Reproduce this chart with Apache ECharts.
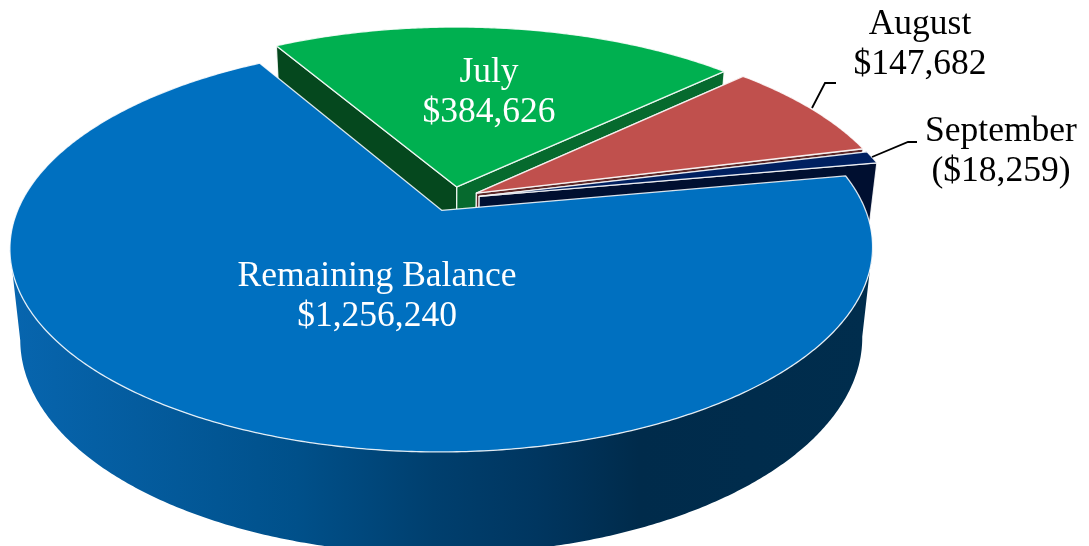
<!DOCTYPE html>
<html style='height: 100%'>
<head>
    <meta charset='utf-8'>
</head>
<body style='height: 100%; margin: 0; background: #fff'>
    <div id='container' style='width: 1089px; height: 546px'></div>
    <script src="https://cdn.jsdelivr.net/npm/echarts@6/dist/echarts.min.js"></script>
    <script type="text/javascript">

// values
var categories = ['Remaining Balance', 'July', 'August', 'September'];
var values = [1256240, 384626, 147682, 18259];
var valueLabels = ['$1,256,240', '$384,626', '$147,682', '($18,259)'];

// colours per slice: top, face towards the next slice, face towards the previous one
var topColors = ['#0070C0', '#00B050', '#C0504D', '#002060'];
var endColors = ['#00305a', '#066a2e', '#5e2a2a', '#000f30'];
var startColors = ['#00305a', '#05481e', '#5e2a2a', '#000f30'];

// the order slices get painted in, back to front
var paintOrder = [1, 2, 3, 0];

// fake 3d pie set up
var cx = 453, cy = 199;
var radiusX = 419.5, radiusY = 193;
var persp = 0.182;
var explode = 0.064;
var thickness = 88;
var shrink = 0.976;
var vanishX = 442;
var startAngle = -10.4;

var total = values.reduce(function (a, b) { return a + b; }, 0);

function toScreen(px, py) {
    var s = 1 / (1 - persp * py);
    return [cx + radiusX * px * s, cy + radiusY * py * s, s];
}

function toBottom(p) {
    return [vanishX + (p[0] - vanishX) * shrink, p[1] + thickness * Math.pow(p[2], 0.7)];
}

function slicePoints(idx) {
    var before = 0;
    for (var i = 0; i < idx; i++) before += values[i];
    var a0 = startAngle + before / total * 360;
    var a1 = a0 + values[idx] / total * 360;
    var mid = (a0 + a1) / 2 * Math.PI / 180;
    var ox = Math.cos(mid) * explode, oy = Math.sin(mid) * explode;
    var rim = [];
    var steps = Math.max(2, Math.ceil((a1 - a0) * 2));
    for (var j = 0; j <= steps; j++) {
        var t = (a0 + (a1 - a0) * j / steps) * Math.PI / 180;
        rim.push(toScreen(Math.cos(t) + ox, Math.sin(t) + oy));
    }
    return { apex: toScreen(ox, oy), rim: rim };
}

function poly(points, fill, z2, stroke) {
    return {
        type: 'polygon',
        z2: z2,
        shape: { points: points.map(function (p) { return [p[0], p[1]]; }) },
        style: { fill: fill, stroke: stroke || 'none', lineWidth: stroke ? 1.3 : 0, lineJoin: 'round' }
    };
}

var wallGradient = new echarts.graphic.LinearGradient(15, 0, 870, 0, [
    { offset: 0, color: '#0765AE' },
    { offset: 0.33, color: '#00508A' },
    { offset: 0.49, color: '#003F6E' },
    { offset: 0.61, color: '#003660' },
    { offset: 0.73, color: '#002B4B' },
    { offset: 1, color: '#002D4D' }
], true);

// only the stretch of rim between the two side extremes is seen from the front
function frontRim(rim) {
    var hi = 0, lo = 0;
    rim.forEach(function (p, i) {
        if (p[0] > rim[hi][0]) hi = i;
        if (p[0] < rim[lo][0]) lo = i;
    });
    return rim.slice(hi, lo + 1);
}

function renderSlice(params, api) {
    var idx = api.value(0);
    var z = paintOrder.indexOf(idx) * 10;
    var s = slicePoints(idx);
    var apexB = toBottom(s.apex);
    var first = s.rim[0], last = s.rim[s.rim.length - 1];
    var edge = 'rgba(255,255,255,0.85)';
    var children = [];

    // the outer wall only matters for the big slice, the rest sits behind its own top
    if (idx === 0) {
        var front = frontRim(s.rim);
        var wall = front.concat(front.slice().reverse().map(toBottom));
        children.push(poly(wall, wallGradient, z));
    } else {
        children.push(poly([s.apex, first, toBottom(first), apexB], startColors[idx], z + 1, edge));
        children.push(poly([s.apex, last, toBottom(last), apexB], endColors[idx], z + 1, edge));
    }
    children.push(poly([s.apex].concat(s.rim), topColors[idx], z + 2, edge));
    return { type: 'group', children: children };
}

var serif = '"Liberation Serif", "Times New Roman", serif';

function label(idx, x, y, color) {
    return {
        type: 'text',
        x: x, y: y, z: 10,
        style: {
            text: categories[idx] + '\n' + valueLabels[idx],
            fill: color,
            font: '35.5px ' + serif,
            lineHeight: 40,
            align: 'center',
            verticalAlign: 'middle'
        }
    };
}

function leader(points) {
    return {
        type: 'polyline', z: 10,
        shape: { points: points },
        style: { stroke: '#000', lineWidth: 1.8, fill: 'none' }
    };
}

var dom = document.getElementById("container");
var myChart = echarts.init(dom);

var option = {
    animation: false,
    series: [{
        type: 'custom',
        coordinateSystem: 'none',
        silent: true,
        data: values.map(function (v, i) { return [i, v]; }),
        renderItem: renderSlice
    }],
    graphic: [
        label(0, 377, 297, '#fff'),
        label(1, 489, 93, '#fff'),
        label(2, 920, 45, '#000'),
        label(3, 1001, 152, '#000'),
        leader([[812, 108], [825, 83], [836, 83]]),
        leader([[872, 157], [908, 142], [917, 142]])
    ]
};

myChart.setOption(option, true);
       </script>
</body>
</html>
